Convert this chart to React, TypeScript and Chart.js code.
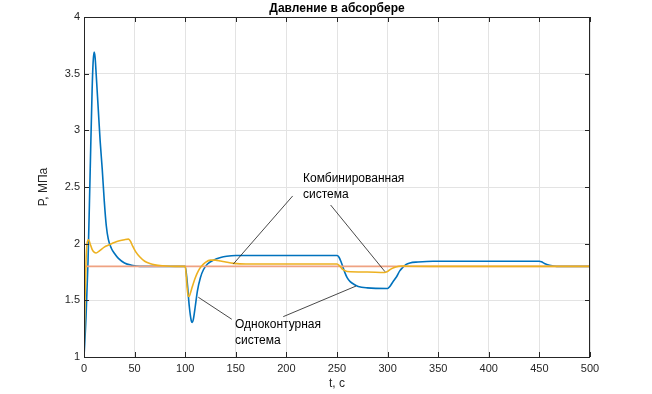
import React, { useEffect, useRef } from "react";
import { Chart, registerables } from "chart.js";

Chart.register(...registerables);

const TITLE = "Давление в абсорбере";
const X_LABEL = "t, c";
const Y_LABEL = "P, МПа";

// Одноконтурная система (blue)
const singleT = [0, 2, 4, 6, 8, 9, 10, 11, 12, 14, 16, 18, 20, 22, 24, 27, 30, 34, 40, 47, 55, 100,
  102, 104, 106, 107, 108, 110, 112, 115, 118, 122, 128, 135, 141, 150, 250,
  252, 254, 256, 258, 260, 263, 267, 271, 280, 300, 302, 305, 309, 312, 315, 318, 322, 330, 345, 450,
  452, 455, 460, 467, 500];
const singleP = [1.0, 1.35, 1.85, 2.6, 3.35, 3.6, 3.69, 3.64, 3.5, 3.2, 2.9, 2.66, 2.38, 2.16, 2.04, 1.96, 1.915, 1.87, 1.83, 1.81, 1.8, 1.8,
  1.66, 1.45, 1.32, 1.305, 1.33, 1.45, 1.58, 1.7, 1.77, 1.82, 1.855, 1.878, 1.889, 1.895, 1.895,
  1.88, 1.84, 1.79, 1.74, 1.7, 1.665, 1.64, 1.622, 1.61, 1.605, 1.62, 1.66, 1.71, 1.76, 1.79, 1.815, 1.83, 1.838, 1.845, 1.845,
  1.84, 1.825, 1.81, 1.8, 1.8];

// Комбинированная система (yellow)
const combT = [0, 1, 2, 3, 4.5, 6, 8, 10, 12, 15, 20, 25, 30, 35, 40, 44, 46, 48, 51, 55, 60, 65, 70, 78, 90, 100,
  101, 102, 103, 104, 105, 107, 110, 113, 116, 120, 125, 130, 135, 140, 148, 160, 250,
  253, 256, 260, 280, 297, 300, 304, 308, 314, 320, 350, 500];
const combP = [1.0, 1.5, 1.85, 2.0, 2.035, 2.0, 1.95, 1.925, 1.918, 1.935, 1.97, 1.99, 2.01, 2.025, 2.035, 2.04, 2.02, 1.98, 1.93, 1.885, 1.845, 1.825, 1.813, 1.805, 1.8, 1.8,
  1.72, 1.6, 1.54, 1.535, 1.56, 1.62, 1.7, 1.76, 1.8, 1.835, 1.855, 1.855, 1.847, 1.838, 1.826, 1.82, 1.82,
  1.8, 1.77, 1.755, 1.75, 1.745, 1.755, 1.78, 1.795, 1.803, 1.801, 1.8, 1.8];

// Задание (set point)
const setT = [0, 500];
const setP = [1.8, 1.8];

// Annotations in data coordinates
const labelTexts = [
  { text: "Комбинированная", t: 216.4, p: 2.575 },
  { text: "система", t: 216.4, p: 2.429 },
  { text: "Одноконтурная", t: 149.2, p: 1.282 },
  { text: "система", t: 149.2, p: 1.141 },
];
const leaderLines = [
  { t1: 206.2, p1: 2.421, t2: 147.5, p2: 1.82 },
  { t1: 243.7, p1: 2.341, t2: 297.4, p2: 1.753 },
  { t1: 196.9, p1: 1.356, t2: 268.8, p2: 1.626 },
  { t1: 146.0, p1: 1.333, t2: 113.0, p2: 1.527 },
];

const FONT = "'Liberation Sans', Arial, Helvetica, sans-serif";
const AXIS_COLOR = "#262626";

const toXY = (ts: number[], ps: number[]) => ts.map((t, i) => ({ x: t, y: ps[i] }));

const decorPlugin = {
  id: "decor",
  beforeDraw(chart: any) {
    const ctx = chart.ctx;
    ctx.save();
    ctx.fillStyle = "#ffffff";
    ctx.fillRect(0, 0, chart.width, chart.height);
    ctx.restore();
  },
  afterDatasetsDraw(chart: any) {
    const ctx = chart.ctx;
    const xs = chart.scales.x;
    const ys = chart.scales.y;
    const a = chart.chartArea;
    ctx.save();
    // leader lines
    ctx.strokeStyle = "#1a1a1a";
    ctx.lineWidth = 0.8;
    leaderLines.forEach((l) => {
      ctx.beginPath();
      ctx.moveTo(xs.getPixelForValue(l.t1), ys.getPixelForValue(l.p1));
      ctx.lineTo(xs.getPixelForValue(l.t2), ys.getPixelForValue(l.p2));
      ctx.stroke();
    });
    // annotation text
    ctx.fillStyle = "#000000";
    ctx.font = `12px ${FONT}`;
    ctx.textAlign = "left";
    ctx.textBaseline = "middle";
    labelTexts.forEach((l) => {
      ctx.fillText(l.text, xs.getPixelForValue(l.t), ys.getPixelForValue(l.p));
    });
    // box
    ctx.strokeStyle = AXIS_COLOR;
    ctx.lineWidth = 1;
    ctx.strokeRect(Math.round(a.left) + 0.5, Math.round(a.top) + 0.5, Math.round(a.right - a.left) - 1, Math.round(a.bottom - a.top));
    // inward ticks
    const tl = 5;
    ctx.beginPath();
    xs.ticks.forEach((tk: any) => {
      const px = Math.round(xs.getPixelForValue(tk.value)) + 0.5;
      ctx.moveTo(px, a.bottom);
      ctx.lineTo(px, a.bottom - tl);
      ctx.moveTo(px, a.top);
      ctx.lineTo(px, a.top + tl);
    });
    ys.ticks.forEach((tk: any) => {
      const py = Math.round(ys.getPixelForValue(tk.value)) + 0.5;
      ctx.moveTo(a.left, py);
      ctx.lineTo(a.left + tl, py);
      ctx.moveTo(a.right, py);
      ctx.lineTo(a.right - tl, py);
    });
    ctx.stroke();
    // title
    ctx.fillStyle = "#000000";
    ctx.font = `bold 12px ${FONT}`;
    ctx.textAlign = "center";
    ctx.textBaseline = "middle";
    ctx.fillText(TITLE, (a.left + a.right) / 2, 9);
    // axis titles
    ctx.fillStyle = AXIS_COLOR;
    ctx.font = `12px ${FONT}`;
    ctx.fillText(X_LABEL, (a.left + a.right) / 2, 384);
    ctx.save();
    ctx.translate(44, (a.top + a.bottom) / 2);
    ctx.rotate(-Math.PI / 2);
    ctx.fillText(Y_LABEL, 0, 0);
    ctx.restore();
    ctx.restore();
  },
};

export default function App() {
  const ref = useRef<HTMLCanvasElement | null>(null);
  useEffect(() => {
    if (!ref.current) return;
    const chart = new Chart(ref.current, {
      type: "line",
      data: {
        datasets: [
          {
            label: "Комбинированная система",
            data: toXY(combT, combP),
            borderColor: "#EDB120",
            borderWidth: 1.6,
            pointRadius: 0,
            cubicInterpolationMode: "monotone",
            order: 0,
          },
          {
            label: "Задание",
            data: toXY(setT, setP),
            borderColor: "#EFA282",
            borderWidth: 1.6,
            pointRadius: 0,
            order: 1,
          },
          {
            label: "Одноконтурная система",
            data: toXY(singleT, singleP),
            borderColor: "#0072BD",
            borderWidth: 1.6,
            pointRadius: 0,
            cubicInterpolationMode: "monotone",
            order: 2,
          },
        ],
      },
      options: {
        responsive: false,
        animation: false,
        layout: { padding: { top: 17, right: 62, left: 0, bottom: 0 } },
        plugins: { legend: { display: false }, tooltip: { enabled: false }, title: { display: false } },
        scales: {
          x: {
            type: "linear",
            min: 0,
            max: 500,
            afterFit: (s: any) => { s.height = 37; },
            ticks: {
              stepSize: 50, padding: 5, color: AXIS_COLOR, font: { family: FONT, size: 11 }, maxRotation: 0,
              callback: (v: any) => String(Math.round(Number(v))),
            },
            grid: { color: "#e3e3e3", drawTicks: false },
            border: { display: false },
          },
          y: {
            type: "linear",
            min: 1,
            max: 4,
            afterFit: (s: any) => { s.width = 84; },
            ticks: {
              stepSize: 0.5, padding: 4, color: AXIS_COLOR, font: { family: FONT, size: 11 },
              callback: (v: any) => String(Math.round(Number(v) * 10) / 10),
            },
            grid: { color: "#e3e3e3", drawTicks: false },
            border: { display: false },
          },
        },
      },
      plugins: [decorPlugin],
    } as any);
    return () => chart.destroy();
  }, []);
  return (
    <div style={{ position: "fixed", left: 0, top: 0, width: 652, height: 394, background: "#fff" }}>
      <canvas ref={ref} width={652} height={394} style={{ display: "block" }} />
    </div>
  );
}
